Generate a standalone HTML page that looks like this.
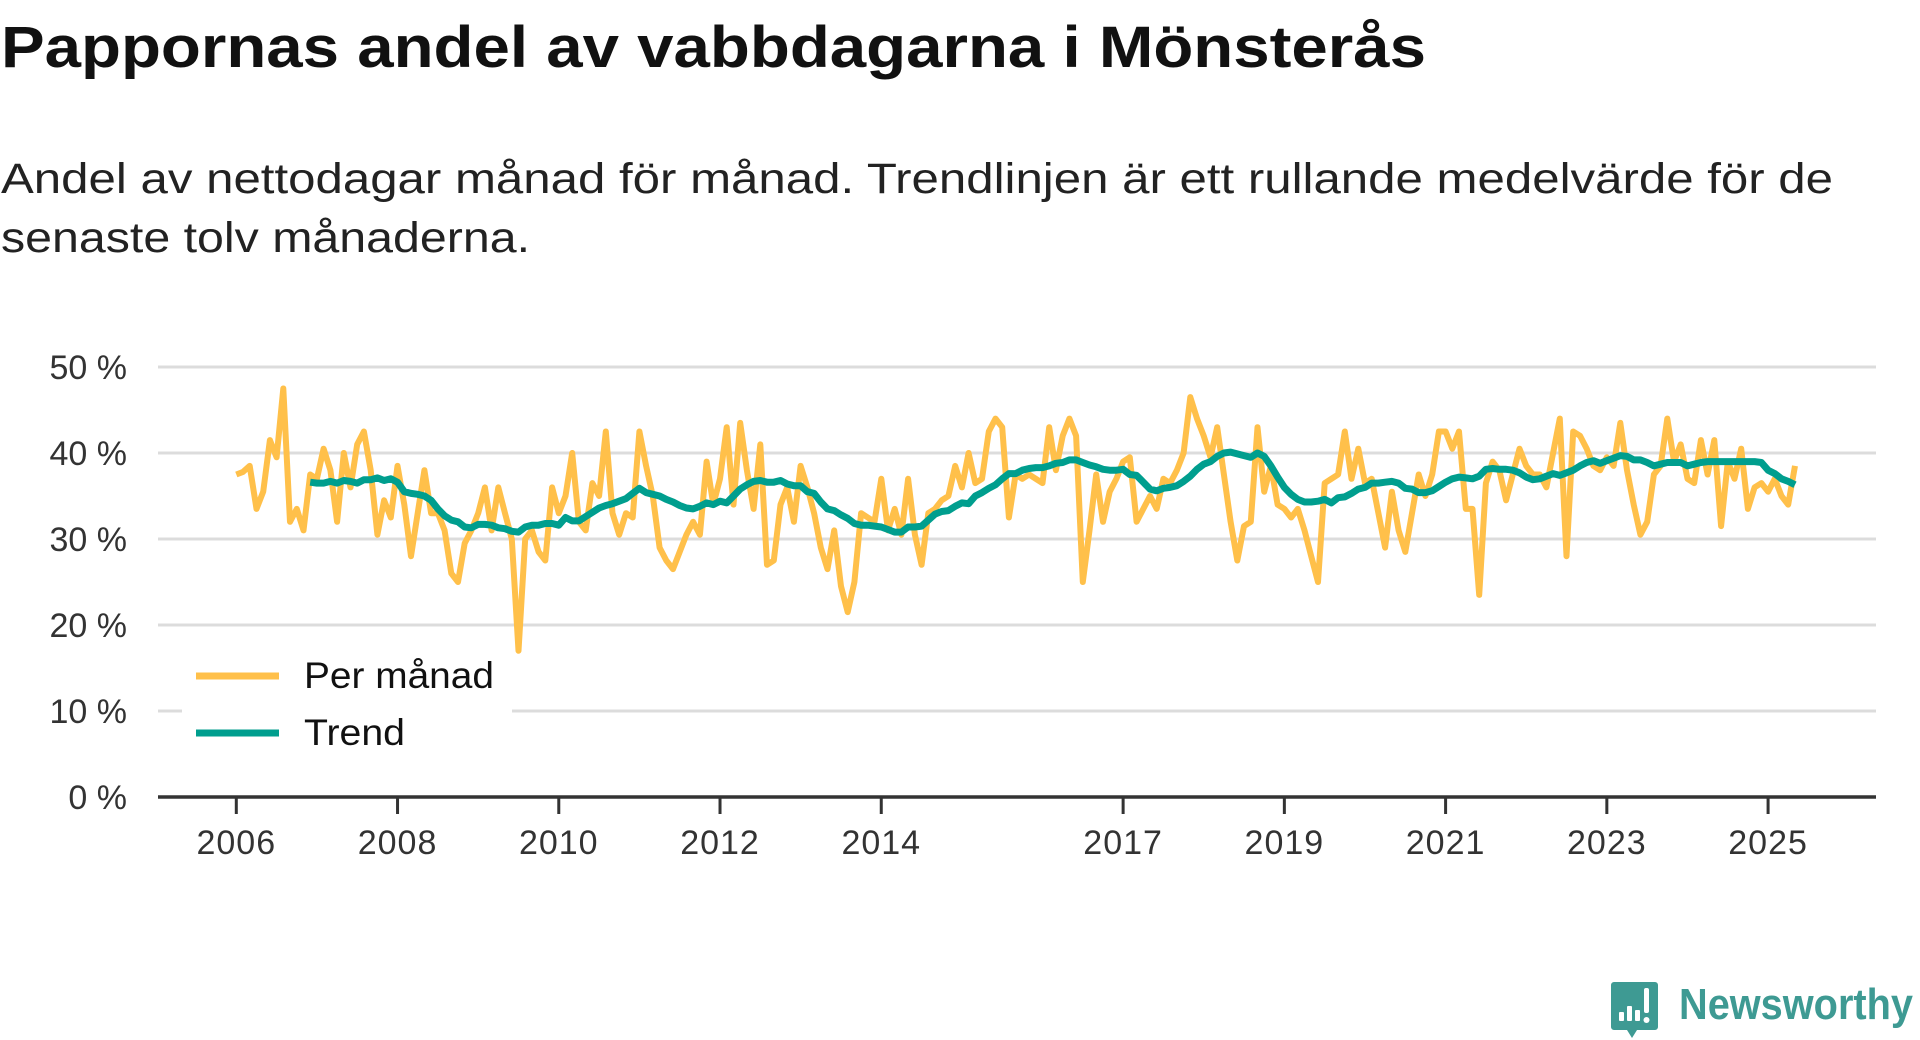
<!DOCTYPE html>
<html><head><meta charset="utf-8">
<style>
html,body{margin:0;padding:0;background:#fff;width:1920px;height:1040px;overflow:hidden;font-family:"Liberation Sans","DejaVu Sans",sans-serif;}
#chart{position:absolute;left:0;top:0;}
</style></head><body>
<svg id="chart" width="1920" height="1040">
<text x="1" y="67" font-size="58" font-weight="bold" fill="#111" font-family="Liberation Sans, sans-serif" textLength="1425" lengthAdjust="spacingAndGlyphs">Pappornas andel av vabbdagarna i Mönsterås</text>
<text x="1" y="193" font-size="43" fill="#222" font-family="Liberation Sans, sans-serif" textLength="1832" lengthAdjust="spacingAndGlyphs">Andel av nettodagar månad för månad. Trendlinjen är ett rullande medelvärde för de</text>
<text x="1" y="252" font-size="43" fill="#222" font-family="Liberation Sans, sans-serif" textLength="529" lengthAdjust="spacingAndGlyphs">senaste tolv månaderna.</text>
</svg>
<script>
const yTicks=[0,10,20,30,40,50];
const yTickLabels=["0 %","10 %","20 %","30 %","40 %","50 %"];
const xTickYears=[2006,2008,2010,2012,2014,2017,2019,2021,2023,2025];
const monthly=[
37.5,37.8,38.5,33.5,35.5,41.5,39.5,47.5,32,33.5,31,37.5,
37,40.5,38,32,40,36,41,42.5,38,30.5,34.5,32.5,
38.5,34,28,33,38,33,33,31,26,25,29.5,31,
33,36,31,36,33,30,17,30,31,28.5,27.5,36,
33,35,40,32,31,36.5,35,42.5,33,30.5,33,32.5,
42.5,38.5,35,29,27.5,26.5,28.5,30.5,32,30.5,39,34,
37,43,34,43.5,38,33.5,41,27,27.5,34,36,32,
38.5,36,33,29,26.5,31,24.5,21.5,25,33,32.5,32,
37,31,33.5,30.5,37,30.5,27,33,33.5,34.5,35,38.5,
36,40,36.5,37,42.5,44,43,32.5,37.5,37,37.5,37,
36.5,43,38,42,44,42,25,31,37.5,32,35.5,37,
39,39.5,32,33.5,35,33.5,37,36.5,38,40,46.5,44,
42,39.5,43,37.5,32,27.5,31.5,32,43,35.5,38.5,34,
33.5,32.5,33.5,31,28,25,36.5,37,37.5,42.5,37,40.5,
36.5,37,33,29,35.5,31,28.5,33,37.5,35,37.5,42.5,
42.5,40.5,42.5,33.5,33.5,23.5,36.5,39,38,34.5,37.5,40.5,
38.5,37.5,37.5,36,40,44,28,42.5,42,40.5,38.5,38,
39.5,38.5,43.5,38,34,30.5,32,37.5,38.5,44,39,41,
37,36.5,41.5,37.5,41.5,31.5,39,37,40.5,33.5,36,36.5,
35.5,37,35,34,38.5];
const trendStartIndex=11;
const trend=[36.6,
36.5,36.5,36.7,36.5,36.8,36.7,36.5,36.9,36.9,37.1,36.8,37,
36.6,35.5,35.3,35.2,35,34.5,33.5,32.7,32.2,32,31.4,31.3,
31.7,31.7,31.6,31.3,31.2,30.9,30.8,31.4,31.6,31.6,31.8,31.8,
31.6,32.5,32.1,32.1,32.6,33.1,33.6,33.9,34.1,34.4,34.7,35.3,
35.9,35.4,35.2,35,34.6,34.3,33.9,33.6,33.5,33.8,34.2,34,
34.4,34.2,35,35.8,36.3,36.7,36.8,36.6,36.6,36.8,36.4,36.2,
36.2,35.5,35.3,34.3,33.5,33.3,32.8,32.4,31.8,31.6,31.6,31.5,
31.4,31.1,30.8,30.8,31.4,31.4,31.5,32.2,32.9,33.2,33.3,33.8,
34.2,34.1,35,35.4,35.9,36.3,37,37.6,37.6,38,38.2,38.3,
38.3,38.5,38.8,38.9,39.2,39.2,38.9,38.6,38.4,38.1,38,38,
38.1,37.5,37.4,36.6,35.8,35.6,35.9,36,36.2,36.7,37.3,38.1,
38.7,39,39.6,40,40.1,39.9,39.7,39.5,40,39.6,38.5,37.2,
36,35.2,34.6,34.3,34.3,34.4,34.6,34.2,34.8,34.9,35.3,35.8,
36,36.5,36.5,36.6,36.7,36.5,35.9,35.8,35.4,35.4,35.6,36.1,
36.6,37,37.2,37.1,37,37.3,38.1,38.2,38.1,38.1,38,37.7,
37.2,36.9,37,37.3,37.6,37.4,37.7,38,38.5,38.9,39.1,38.8,
39.1,39.4,39.7,39.6,39.2,39.2,38.9,38.5,38.7,38.9,38.9,38.9,
38.5,38.7,38.9,39,39,39,39,39,39,39,39,38.9,
38,37.6,37,36.7,36.3];

const NS="http://www.w3.org/2000/svg";
const svg=document.getElementById('chart');
const X0=158,X1=1876,Y0=797,YTOP=367;
function xScale(monthIndex){return 236.3+(monthIndex/12)*80.62;}
function xYear(y){return xScale((y-2006)*12);}
function yScale(v){return Y0-(v/50)*(Y0-YTOP);}
function mk(tag,attrs){const e=document.createElementNS(NS,tag);for(const k in attrs)e.setAttribute(k,attrs[k]);svg.appendChild(e);return e;}

yTicks.forEach((t,i)=>{
  if(t>0){
    const g=mk('line',{x1:X0,x2:X1,y1:yScale(t),y2:yScale(t),stroke:'#dcdcdc','stroke-width':3});
    
    
  }
  const tx=mk('text',{x:127,y:yScale(t)+12,'text-anchor':'end','font-size':34,fill:'#333','font-family':'"Liberation Sans",sans-serif'});
  tx.textContent=yTickLabels[i];
  
  
});
const ax=mk('line',{x1:X0,x2:X1,y1:Y0,y2:Y0,stroke:'#333','stroke-width':3.5});


xTickYears.forEach(yr=>{
  const x=xYear(yr);
  const tk=mk('line',{x1:x,x2:x,y1:Y0,y2:Y0+17,stroke:'#333','stroke-width':3});
  
  
  const tx=mk('text',{x:x,y:854,'text-anchor':'middle','font-size':34,fill:'#333','font-family':'"Liberation Sans",sans-serif','letter-spacing':1});
  tx.textContent=String(yr);
  
  
});

function pathFor(arr,offset){return arr.map((v,i)=>(i?'L':'M')+xScale(i+offset).toFixed(1)+','+yScale(v).toFixed(1)).join(' ');}
const pm=mk('path',{d:pathFor(monthly,0),fill:'none',stroke:'#ffc04a','stroke-width':6,'stroke-linejoin':'round'});


const tr=mk('path',{d:pathFor(trend,trendStartIndex),fill:'none',stroke:'#009e8e','stroke-width':7,'stroke-linejoin':'round'});



// legend
const lb=mk('rect',{x:182,y:643,width:330,height:116,fill:'#fff'});


const l1=mk('line',{x1:196,x2:279,y1:676,y2:676,stroke:'#ffc04a','stroke-width':7});


const t1=mk('text',{x:304,y:688,'font-size':37,fill:'#111','font-family':'"Liberation Sans",sans-serif',textLength:190,lengthAdjust:'spacingAndGlyphs'});
t1.textContent='Per månad';


const l2=mk('line',{x1:196,x2:279,y1:733,y2:733,stroke:'#009e8e','stroke-width':7});


const t2=mk('text',{x:304,y:745,'font-size':37,fill:'#111','font-family':'"Liberation Sans",sans-serif',textLength:101,lengthAdjust:'spacingAndGlyphs'});
t2.textContent='Trend';



// logo
const lg=mk('path',{d:'M1614,982 h41 a3,3 0 0 1 3,3 v42 a3,3 0 0 1 -3,3 h-18 l-5,8 l-5,-8 h-13 a3,3 0 0 1 -3,-3 v-42 a3,3 0 0 1 3,-3 z',fill:'#3e9a93'});


[[1619,1012,5,9],[1627,1006,5,15],[1635,1010,5,11]].forEach(b=>{const r=mk('rect',{x:b[0],y:b[1],width:b[2],height:b[3],fill:'#fff',rx:1});});
const ex=mk('rect',{x:1644,y:988,width:5,height:25,fill:'#fff',rx:2});


const dot=mk('circle',{cx:1646.5,cy:1020,r:3,fill:'#fff'});


const lt=mk('text',{x:1679,y:1019,'font-size':44,'font-weight':'bold',fill:'#3e9a93','font-family':'"Liberation Sans",sans-serif',textLength:234,lengthAdjust:'spacingAndGlyphs'});
lt.textContent='Newsworthy';


</script>
</body></html>
